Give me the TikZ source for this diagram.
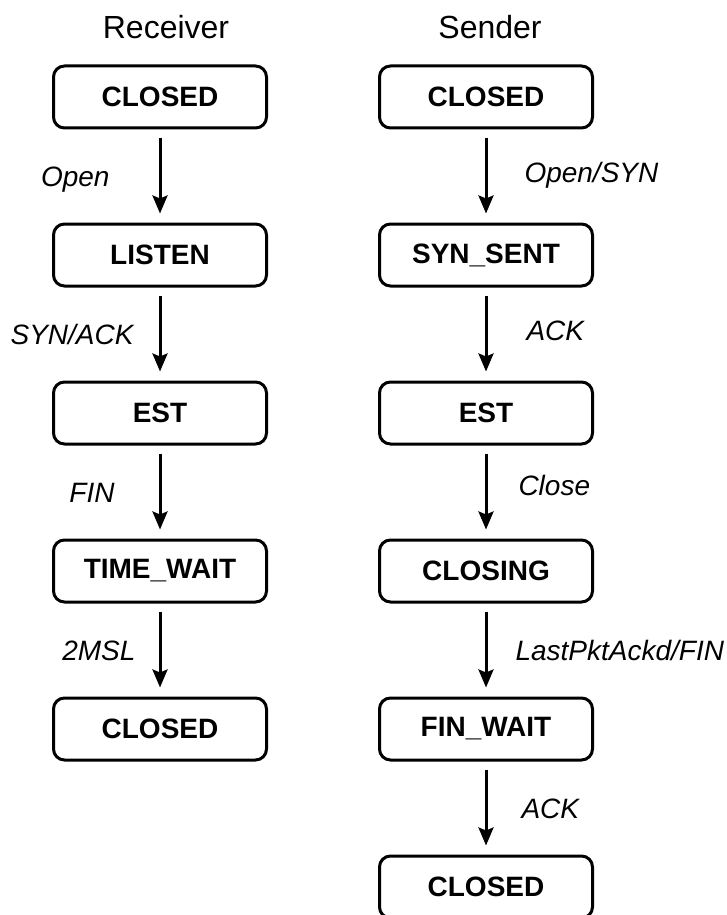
\documentclass[tikz,border=0pt]{standalone}
\usepackage{fontspec}
\setmainfont{Liberation Sans}
\usetikzlibrary{arrows.meta,positioning}
\tikzset{
  >={Stealth[length=18pt,width=15pt,inset=3pt]},
  state/.style={draw,line width=3pt,rounded corners=11pt,minimum width=213pt,
    minimum height=62pt,font=\fontsize{28}{32}\selectfont\bfseries},
  trans/.style={->,line width=3pt,shorten <=8pt,shorten >=9pt},
  lbl/.style={font=\fontsize{28}{32}\selectfont\itshape,text height=20pt,
    text depth=0pt,inner sep=0pt},
  head/.style={font=\fontsize{32}{36}\selectfont},
}
\begin{document}
\begin{tikzpicture}[x=1pt,y=-1pt]
  \useasboundingbox (0,0) rectangle (727,915);
  \node[head] (rtitle) at (166,27) {Receiver};
  \node[head] (stitle) at (490,27) {Sender};
  % receiver side
  \node[state] (r1) at (160,97) {CLOSED};
  \node[state] (r2) at (160,255) {LISTEN};
  \node[state] (r3) at (160,413) {EST};
  \node[state] (r4) at (160,571) {TIME\_WAIT};
  \node[state] (r5) at (160,729) {CLOSED};
  \draw[trans] (r1) -- node[lbl,left=49pt]{Open} (r2);
  \draw[trans] (r2) -- node[lbl,left=25pt]{SYN/ACK} (r3);
  \draw[trans] (r3) -- node[lbl,left=44pt]{FIN} (r4);
  \draw[trans] (r4) -- node[lbl,left=23pt]{2MSL} (r5);
  % sender side
  \node[state] (s1) at (486,97) {CLOSED};
  \node[state] (s2) at (486,255) {SYN\_SENT};
  \node[state] (s3) at (486,413) {EST};
  \node[state] (s4) at (486,571) {CLOSING};
  \node[state] (s5) at (486,729) {FIN\_WAIT};
  \node[state] (s6) at (486,887) {CLOSED};
  \draw[trans] (s1) -- node[lbl,right=37pt,yshift=4pt]{Open/SYN} (s2);
  \draw[trans] (s2) -- node[lbl,right=39pt,yshift=4pt]{ACK} (s3);
  \draw[trans] (s3) -- node[lbl,right=31pt,yshift=7pt]{Close} (s4);
  \draw[trans] (s4) -- node[lbl,right=28pt]{LastPktAckd/FIN} (s5);
  \draw[trans] (s5) -- node[lbl,right=34pt]{ACK} (s6);
\end{tikzpicture}
\end{document}
